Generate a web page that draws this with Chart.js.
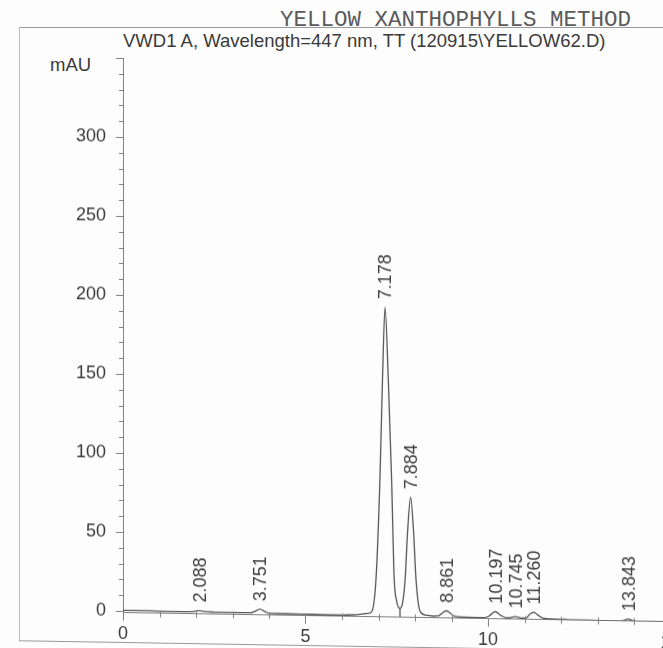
<!DOCTYPE html>
<html lang="en">
<head>
    <meta charset="UTF-8">
    <title>YELLOW XANTHOPHYLLS METHOD</title>
    <script src="https://cdn.jsdelivr.net/npm/chart.js"></script>
    <style>
        body { margin: 0; width: 663px; height: 648px; overflow: hidden; background: #fdfdfd; position: relative; font-family: "Liberation Sans", Arial, sans-serif; color: #3a3a3a; }
        .txt { position: absolute; white-space: nowrap; }
        #method { left: 280px; top: 9px; font: 22.5px/22px "Liberation Mono", "Courier New", monospace; color: #5a5a5a; }
        #signal { left: 123px; top: 32px; font-size: 18.5px; line-height: 18px; }
        #unit { left: 50px; top: 56px; font-size: 18.5px; line-height: 18px; }
        #topLine { position: absolute; left: 20px; top: 27px; width: 643px; height: 1px; background: #999; }
        #leftLine { position: absolute; left: 19px; top: 27px; width: 1px; height: 614px; background: #bbb; }
        #page { position: absolute; left: 0; top: 0; width: 700px; height: 648px; transform: skewY(0.95deg); transform-origin: 123px 0; }
        #bottomLine { position: absolute; left: 19px; top: 642px; width: 681px; height: 1px; background: #999; }
    </style>
</head>
<body>
    <div id="topLine"></div>
    <div id="leftLine"></div>
    <div class="txt" id="method">YELLOW XANTHOPHYLLS METHOD</div>
    <div class="txt" id="signal">VWD1 A, Wavelength=447 nm, TT (120915\YELLOW62.D)</div>
    <div class="txt" id="unit">mAU</div>
    <div id="page">
        <canvas id="chrom" width="700" height="648"></canvas>
        <div id="bottomLine"></div>
    </div>

    <script>
        // retention time (min) / absorbance (mAU)
        const times = [0, 0.5, 1.0, 1.5, 1.9, 2.0, 2.09, 2.2, 2.5, 3.0, 3.5, 3.6, 3.75, 3.9, 4.0, 4.5, 5.0, 5.5, 6.0, 6.3, 6.5, 6.7, 6.81, 6.93, 7.04, 7.11, 7.18, 7.27, 7.36, 7.43, 7.50, 7.59, 7.66, 7.73, 7.80, 7.88, 7.96, 8.03, 8.14, 8.3, 8.5, 8.65, 8.76, 8.86, 8.96, 9.08, 9.3, 9.6, 9.9, 10.02, 10.2, 10.35, 10.5, 10.6, 10.75, 10.9, 11.05, 11.16, 11.26, 11.36, 11.5, 11.8, 12.2, 12.6, 13.0, 13.4, 13.7, 13.84, 14.0, 14.4, 15.0];
        const mAU = [0.4, 0.4, 0.3, 0.3, 0.3, 0.7, 1.1, 0.6, 0.3, 0.2, 0.2, 1.0, 2.6, 1.0, 0.1, 0, -0.1, -0.2, -0.2, 0, 0.4, 1.0, 2.0, 22, 86, 149, 195, 149, 86, 24, 9, 4.6, 8, 22.6, 54, 75, 54, 22.6, 3, 0.5, 0, 0.3, 2.2, 3.5, 2.2, 0.2, -0.3, -0.4, -0.4, 0.5, 3.5, 1.2, -0.3, -0.2, 0.6, -0.2, 0, 2.5, 3.5, 2.0, 0, -0.6, -0.8, -0.9, -1.0, -1.0, -0.8, 0.2, -0.9, -1.1, -1.2];

        // integrated peaks: retention time labels and their apex heights
        const peakLabels = ['2.088', '3.751', '7.178', '7.884', '8.861', '10.197', '10.745', '11.260', '13.843'];
        const peakTimes = [2.088, 3.751, 7.178, 7.884, 8.861, 10.197, 10.745, 11.260, 13.843];
        const peakTops = [1.1, 2.6, 195, 75, 3.5, 3.5, 0.6, 3.5, 0.2];

        // drop line between the two main peaks
        const dropTime = 7.59;
        const dropTop = 4.6;
        const dropBottom = -1;

        const xTicks = [0, 5, 10, 15];
        const yTicks = [0, 50, 100, 150, 200, 250, 300, 350];

        const axisColor = '#808080';
        const traceColor = '#555';
        const textColor = '#3a3a3a';
        const fontFamily = '"Liberation Sans", Arial, sans-serif';

        // minor ticks + rotated retention time labels
        const annotate = {
            id: 'annotate',
            afterDraw(chart) {
                const { ctx, chartArea, scales: { x, y } } = chart;
                ctx.save();
                ctx.strokeStyle = axisColor;
                ctx.lineWidth = 1;
                ctx.beginPath();
                for (let v = 10; v <= 350; v += 10) {
                    if (v % 50 === 0) continue;
                    const py = Math.round(y.getPixelForValue(v)) + 0.5;
                    ctx.moveTo(chartArea.left - 4, py);
                    ctx.lineTo(chartArea.left, py);
                }
                for (let t = 1; t <= 15; t++) {
                    if (t % 5 === 0) continue;
                    const px = Math.round(x.getPixelForValue(t)) + 0.5;
                    ctx.moveTo(px, chartArea.bottom - 3);
                    ctx.lineTo(px, chartArea.bottom + 4);
                }
                ctx.stroke();

                ctx.fillStyle = textColor;
                ctx.font = '18px ' + fontFamily;
                ctx.textAlign = 'left';
                ctx.textBaseline = 'middle';
                peakLabels.forEach((label, i) => {
                    const px = x.getPixelForValue(peakTimes[i]) + 1.5;
                    const py = y.getPixelForValue(peakTops[i]) - 8;
                    ctx.save();
                    ctx.translate(px, py);
                    ctx.rotate(-Math.PI / 2);
                    ctx.fillText(label, 0, 0);
                    ctx.restore();
                });
                ctx.restore();
            }
        };

        new Chart(document.getElementById('chrom'), {
            type: 'line',
            data: {
                datasets: [
                    {
                        data: times.map((t, i) => ({ x: t, y: mAU[i] })),
                        borderColor: traceColor,
                        borderWidth: 1.3,
                        pointRadius: 0,
                        cubicInterpolationMode: 'monotone',
                        fill: false
                    },
                    {
                        data: [{ x: dropTime, y: dropTop }, { x: dropTime, y: dropBottom }],
                        borderColor: traceColor,
                        borderWidth: 1.3,
                        pointRadius: 0,
                        fill: false
                    }
                ]
            },
            options: {
                responsive: false,
                animation: false,
                devicePixelRatio: 1,
                layout: { padding: { top: 58, right: 29.5, bottom: 0, left: 0 } },
                plugins: { legend: { display: false }, tooltip: { enabled: false } },
                scales: {
                    x: {
                        type: 'linear',
                        min: 0,
                        max: 15,
                        afterBuildTicks: s => { s.ticks = xTicks.map(v => ({ value: v })); },
                        afterFit: s => { s.height = 35.4; },
                        grid: { drawOnChartArea: false, drawTicks: true, tickLength: 8, color: axisColor },
                        border: { color: axisColor },
                        ticks: { color: textColor, padding: 3, font: { size: 18, family: fontFamily } }
                    },
                    y: {
                        min: -1,
                        max: 350,
                        afterBuildTicks: s => { s.ticks = yTicks.map(v => ({ value: v })); },
                        afterFit: s => { s.width = 123; },
                        grid: { drawOnChartArea: false, drawTicks: true, tickLength: 7, color: axisColor },
                        border: { color: axisColor },
                        ticks: {
                            color: textColor,
                            padding: 10,
                            font: { size: 18, family: fontFamily },
                            callback: v => (v > 300 ? '' : v)
                        }
                    }
                }
            },
            plugins: [annotate]
        });
    </script>
</body>
</html>
